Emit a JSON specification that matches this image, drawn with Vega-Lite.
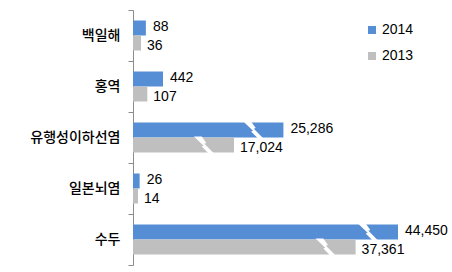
{
  "$schema": "https://vega.github.io/schema/vega-lite/v6.json",
  "width": 319,
  "height": 255,
  "autosize": {"type": "none"},
  "padding": {"left": 133, "top": 10, "right": 0, "bottom": 7},
  "background": "white",
  "config": {"view": {"stroke": null}},
  "data": {
    "values": [
      {"disease": "백일해", "year": "2014", "value": 88},
      {"disease": "백일해", "year": "2013", "value": 36},
      {"disease": "홍역", "year": "2014", "value": 442},
      {"disease": "홍역", "year": "2013", "value": 107},
      {"disease": "유행성이하선염", "year": "2014", "value": 25286},
      {"disease": "유행성이하선염", "year": "2013", "value": 17024},
      {"disease": "일본뇌염", "year": "2014", "value": 26},
      {"disease": "일본뇌염", "year": "2013", "value": 14},
      {"disease": "수두", "year": "2014", "value": 44450},
      {"disease": "수두", "year": "2013", "value": 37361}
    ]
  },
  "encoding": {
    "y": {
      "field": "disease",
      "type": "nominal",
      "sort": ["백일해", "홍역", "유행성이하선염", "일본뇌염", "수두"],
      "scale": {"paddingInner": 0, "paddingOuter": 0},
      "axis": {
        "title": null,
        "tickBand": "extent",
        "domainColor": "#8c8c8c",
        "tickColor": "#8c8c8c",
        "tickSize": 5,
        "labelPadding": 8,
        "labelFont": "Noto Sans CJK KR",
        "labelFontSize": 14,
        "labelFontWeight": 500,
        "labelColor": "#000000"
      }
    },
    "yOffset": {
      "field": "year",
      "type": "nominal",
      "sort": ["2014", "2013"],
      "scale": {"paddingInner": 0, "paddingOuter": 0.7}
    },
    "x": {
      "field": "value",
      "type": "quantitative",
      "scale": {
        "domain": [0, 14, 36, 100, 442, 17024, 44450],
        "range": [0, 5, 8, 14, 30, 101, 265],
        "nice": false,
        "zero": false
      },
      "axis": null
    }
  },
  "layer": [
    {
      "mark": {"type": "bar"},
      "encoding": {
        "color": {
          "field": "year",
          "type": "nominal",
          "scale": {"domain": ["2014", "2013"], "range": ["#558ED5", "#BFBFBF"]},
          "legend": {
            "orient": "none",
            "legendX": 232,
            "legendY": 13,
            "title": null,
            "symbolType": "square",
            "symbolSize": 64,
            "symbolStrokeWidth": 0,
            "labelFont": "Liberation Sans",
            "labelFontSize": 14,
            "labelColor": "#000000",
            "labelOffset": 3,
            "rowPadding": 12
          }
        }
      }
    },
    {
      "transform": [{"filter": "datum.value > 10000"}],
      "mark": {
        "type": "point",
        "shape": "M-1.3,-1.1L-0.3,-1.1L0.3,-0.25L0.05,-0.15L1.3,1.1L0.6,1.1L-0.3,0.2L-0.05,0.1Z",
        "filled": true,
        "fill": "white",
        "strokeWidth": 0,
        "opacity": 1,
        "size": 240,
        "xOffset": -30
      }
    },
    {
      "transform": [{"filter": "datum.year == '2014'"}],
      "mark": {"type": "text", "align": "left", "baseline": "middle", "dx": 7, "dy": -1, "font": "Liberation Sans", "fontSize": 14, "color": "#000000"},
      "encoding": {"text": {"field": "value", "type": "quantitative", "format": ","}}
    },
    {
      "transform": [{"filter": "datum.year == '2013'"}],
      "mark": {"type": "text", "align": "left", "baseline": "middle", "dx": 6, "dy": 3, "font": "Liberation Sans", "fontSize": 14, "color": "#000000"},
      "encoding": {"text": {"field": "value", "type": "quantitative", "format": ","}}
    }
  ]
}
